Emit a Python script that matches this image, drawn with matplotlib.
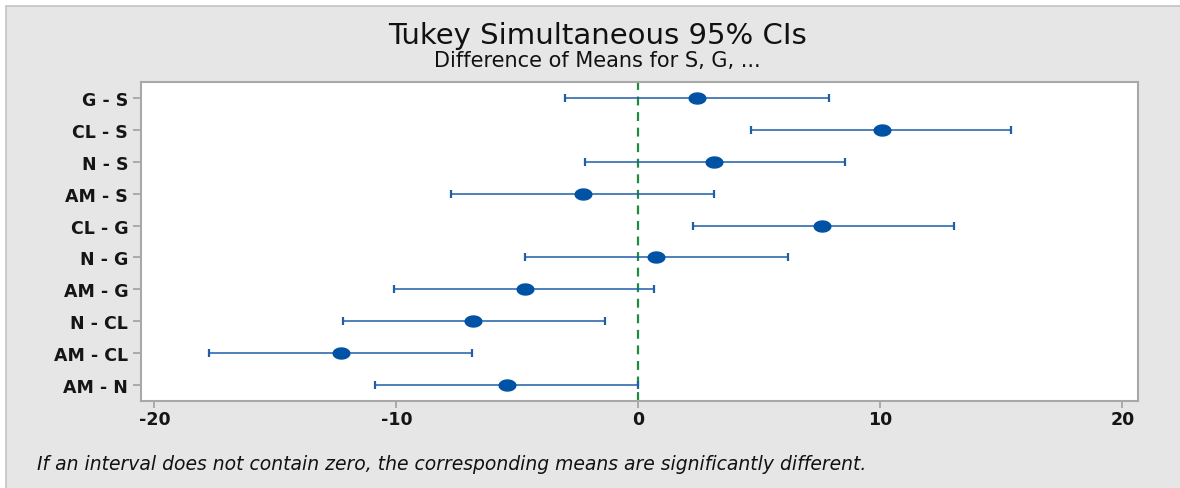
import matplotlib
matplotlib.use("Agg")
import matplotlib.pyplot as plt
import numpy as np
from matplotlib.path import Path
from matplotlib.patches import Rectangle

# ---- data ----
comparisons = ["G - S", "CL - S", "N - S", "AM - S", "CL - G",
               "N - G", "AM - G", "N - CL", "AM - CL", "AM - N"]
diff = [2.42, 10.07, 3.11, -2.31, 7.60, 0.74, -4.70, -6.82, -12.31, -5.45]
lower = [-3.02, 4.66, -2.22, -7.74, 2.27, -4.68, -10.11, -12.21, -17.74, -10.87]
upper = [7.88, 15.41, 8.55, 3.11, 13.05, 6.17, 0.66, -1.38, -6.90, -0.01]
xticks = [-20, -10, 0, 10, 20]

W, H = 1180, 489
fig = plt.figure(figsize=(W / 100, H / 100), dpi=100, facecolor="white")

# gray panel
fig.patches.append(Rectangle((6 / W, -0.01), 1.02, 1 - 6.5 / H + 0.01, transform=fig.transFigure,
                             facecolor="#e6e6e6", edgecolor="#c4c4c4", lw=1.2, zorder=-10))

ax = fig.add_axes([140.7 / W, 1 - 401.7 / H, (1137.7 - 140.7) / W, (401.7 - 83.3) / H])
ax.set_facecolor("white")

y = np.arange(len(comparisons))
d = np.array(diff)
lo = np.array(lower)
hi = np.array(upper)

# ellipse marker
t = np.linspace(0, 2 * np.pi, 40)
verts = np.column_stack([np.cos(t), 0.66 * np.sin(t)])
ell = Path(verts, closed=True)

blue = "#1f5ea8"
ax.errorbar(d, y, xerr=[d - lo, hi - d], fmt="none", ecolor=blue, elinewidth=1.1,
            capsize=3, capthick=1.6, zorder=3)
ax.plot(d, y, linestyle="none", marker=ell, markersize=12, color="#0052a5", zorder=4)

ax.axvline(0, color="#1e8c3a", linestyle=(0, (4, 3)), lw=1.6, zorder=2)

ax.set_xlim(-20.57, 20.63)
ax.set_ylim(len(comparisons) - 0.5, -0.5)
ax.set_yticks(y)
ax.set_yticklabels(comparisons, fontfamily="DejaVu Sans", fontsize=12.5, fontweight="bold",
                   color="#151515")
ax.set_xticks(xticks)
ax.set_xticklabels([str(v) for v in xticks], fontfamily="DejaVu Sans", fontsize=12.5,
                   fontweight="bold", color="#151515")

for s in ax.spines.values():
    s.set_color("#a8a8a8")
    s.set_linewidth(1.5)
ax.tick_params(axis="y", length=6, width=1.2, color="#a0a0a0", pad=3)
ax.tick_params(axis="x", length=5, width=1.2, color="#a0a0a0", pad=2)

fig.text(597 / W, 1 - 36 / H, "Tukey Simultaneous 95% CIs", ha="center", va="center",
         fontfamily="DejaVu Sans", fontsize=21, color="#111111")
fig.text(597 / W, 1 - 61 / H, "Difference of Means for S, G, ...", ha="center", va="center",
         fontfamily="DejaVu Sans", fontsize=15, color="#111111")
fig.text(37 / W, 1 - 465 / H,
         "If an interval does not contain zero, the corresponding means are significantly different.",
         ha="left", va="center", fontfamily="DejaVu Sans", fontsize=13.5, style="italic",
         color="#111111")

fig.savefig("out.png", dpi=100, facecolor="white")
